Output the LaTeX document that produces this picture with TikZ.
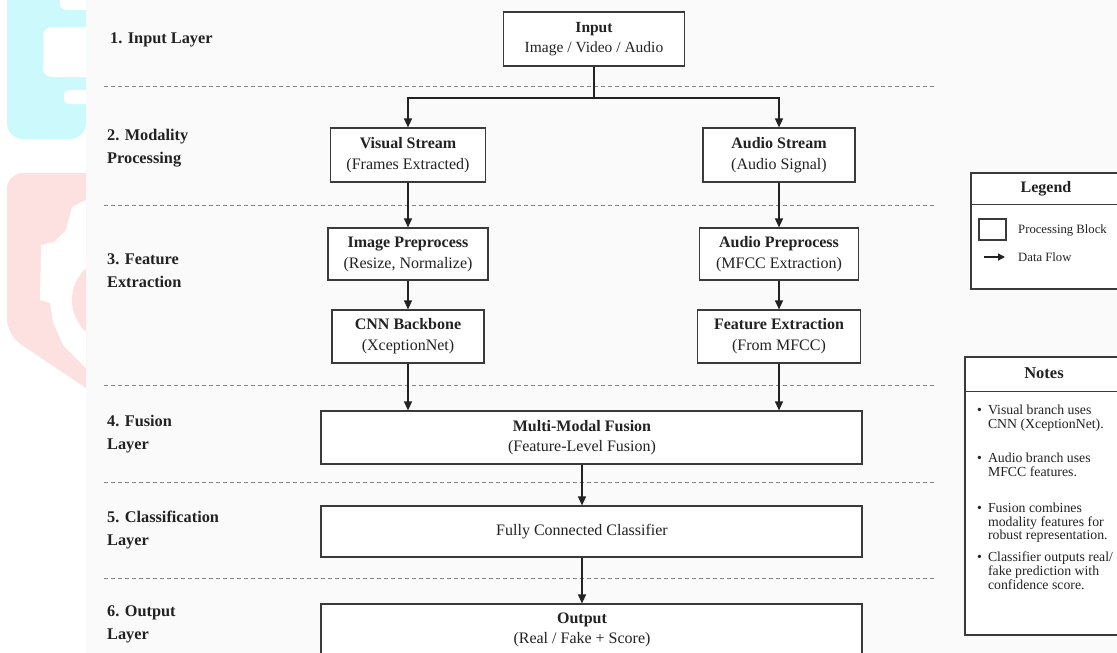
\documentclass[tikz,border=0pt]{standalone}
\usepackage{fontspec}
\setmainfont{Liberation Serif}
\usetikzlibrary{arrows.meta,positioning,calc}
\definecolor{ink}{HTML}{222222}
\definecolor{boxline}{HTML}{3A3A3A}
\definecolor{dashc}{HTML}{858585}
\definecolor{wmcyan}{HTML}{CCFAFC}
\definecolor{wmpink}{HTML}{FDE1E1}
\definecolor{bgc}{HTML}{FAFAFA}
\tikzset{
  procbox/.style={draw=boxline, line width=1.2pt, fill=white, inner sep=0pt, align=center, text=ink, font=\fontsize{16}{21}\selectfont},
  widebox/.style={draw=boxline, line width=1.2pt, fill=white, inner sep=0pt, minimum width=541pt},
  flow/.style={draw=ink, line width=1.3pt, -{Triangle[length=9pt,width=8pt]}},
  plainline/.style={draw=ink, line width=1.3pt},
  sep/.style={draw=dashc, line width=0.9pt, dash pattern=on 4pt off 3pt},
  layerlbl/.style={anchor=west, align=left, text=ink, inner sep=0pt, font=\fontsize{16.3}{23}\selectfont\bfseries},
  boxtext/.style={align=center, text=ink, inner sep=0pt, font=\fontsize{16}{20}\selectfont},
  notetext/.style={anchor=north west, inner sep=0pt, text=ink, font=\fontsize{13.8}{12.8}\selectfont},
}
\begin{document}
\begin{tikzpicture}[x=1pt,y=-1pt]
\useasboundingbox (0,0) rectangle (1117,653);
% backgrounds
\fill[white] (0,0) rectangle (86,653);
\fill[bgc] (86,0) rectangle (1117,653);
% watermark
\begin{scope}
  \clip (0,0) rectangle (86,653);
  \fill[wmcyan] (86,0) -- (7,0) {[rounded corners=16pt] -- (7,139) -- (86,139)} -- cycle;
  \fill[white, rounded corners=9pt] (43,27) rectangle (110,77);
  \fill[white, rounded corners=6pt] (60,-12) rectangle (110,10);
  \fill[white, rounded corners=5pt] (64,90) rectangle (110,104);
  \fill[wmpink] (86,173) {[rounded corners=16pt] -- (7,173) -- (7,335)} -- (86,388) -- cycle;
  \begin{scope}
    \clip (86,173) -- (7,173) -- (7,335) -- (86,388) -- cycle;
    \fill[white] (86,200) -- (72,207) -- (66,230) -- (54,242) -- (41,245) -- (40,300) -- (50,303) -- (53,322) -- (63,345) -- (86,368) -- cycle;
    \fill[wmpink] (115,300) circle (43);
  \end{scope}
\end{scope}

% separators
\foreach \yy in {86,205,385,482,578}{
  \draw[sep] (104,\yy) -- (934,\yy);
}

% layer labels
\node[layerlbl] (L1) at (110,40) {1. Input Layer};
\node[layerlbl] (L2) at (107,148.5) {2. Modality\\Processing};
\node[layerlbl] (L3) at (107,271) {3. Feature\\Extraction};
\node[layerlbl] (L4) at (107,434) {4. Fusion\\Layer};
\node[layerlbl] (L5) at (107,530.5) {5. Classification\\Layer};
\node[layerlbl] (L6) at (107,624.5) {6. Output\\Layer};

% boxes
\node[procbox, minimum width=181pt, minimum height=54pt, font=\fontsize{15.5}{20}\selectfont] (input) at (594,39)
  {\textbf{Input}\\Image / Video / Audio};
\node[procbox, minimum width=155pt, minimum height=54pt] (vis) at (408,155)
  {\textbf{Visual Stream}\\(Frames Extracted)};
\node[procbox, minimum width=152pt, minimum height=54pt] (aud) at (779,155)
  {\textbf{Audio Stream}\\(Audio Signal)};
\node[procbox, minimum width=160pt, minimum height=52pt] (imgpre) at (408,254)
  {\textbf{Image Preprocess}\\(Resize, Normalize)};
\node[procbox, minimum width=159pt, minimum height=52pt] (audpre) at (779,254)
  {\textbf{Audio Preprocess}\\(MFCC Extraction)};
\node[procbox, minimum width=152pt, minimum height=53pt] (cnn) at (408,336.5)
  {\textbf{CNN Backbone}\\(XceptionNet)};
\node[procbox, minimum width=163pt, minimum height=53pt] (featx) at (779,336.5)
  {\textbf{Feature Extraction}\\(From MFCC)};

\node[widebox, minimum height=53pt] (fusion) at (591.5,437.5) {};
\node[boxtext] (fusiontxt) at (582,438)
  {\textbf{Multi-Modal Fusion}\\(Feature-Level Fusion)};
\node[widebox, minimum height=51pt] (cls) at (591.5,531.5) {};
\node[boxtext] (clstxt) at (582,531.5) {Fully Connected Classifier};
\node[widebox, minimum height=53pt] (out) at (591.5,630.5) {};
\node[boxtext] (outtxt) at (582,630) {\textbf{Output}\\(Real / Fake + Score)};

% connectors
\coordinate (split) at (594,98);
\draw[plainline] (input.south) -- (split);
\draw[flow] (split) -| (vis.north);
\draw[flow] (split) -| (aud.north);
\draw[flow] (vis) -- (imgpre);
\draw[flow] (imgpre) -- (cnn);
\draw[flow] (aud) -- (audpre);
\draw[flow] (audpre) -- (featx);
\draw[flow] (cnn.south) -- (cnn.south |- fusion.north);
\draw[flow] (featx.south) -- (featx.south |- fusion.north);
\draw[flow] (fusiontxt |- fusion.south) -- (fusiontxt |- cls.north);
\draw[flow] (clstxt |- cls.south) -- (clstxt |- out.north);

% legend
\draw[draw=boxline, line width=1.1pt, fill=white] (971,173) rectangle (1130,289);
\draw[draw=boxline, line width=0.9pt] (971,204) -- (1130,204);
\node[text=ink, inner sep=0pt, font=\fontsize{16}{18}\selectfont\bfseries] (legtitle) at (1046,189) {Legend};
\node[draw=boxline, line width=1.1pt, minimum width=27pt, minimum height=21pt, inner sep=0pt] (legbox) at (992.5,229.5) {};
\node[anchor=west, text=ink, inner sep=0pt, font=\fontsize{12.7}{14}\selectfont] (legbtxt) at (1018,230) {Processing Block};
\coordinate (legarrA) at (984,257);
\coordinate (legarrB) at (1005,257);
\draw[draw=ink, line width=1.3pt, -{Triangle[length=7pt,width=7pt]}] (legarrA) -- (legarrB);
\node[anchor=west, text=ink, inner sep=0pt, font=\fontsize{12.7}{14}\selectfont] (legftxt) at (1018,257) {Data Flow};

% notes
\draw[draw=boxline, line width=1.1pt, fill=white] (965,357) rectangle (1130,635);
\draw[draw=boxline, line width=0.9pt] (965,391) -- (1130,391);
\node[text=ink, inner sep=0pt, font=\fontsize{16.5}{18}\selectfont\bfseries] (notestitle) at (1044,373) {Notes};
\node[notetext] (n1) at (977,405) {\begin{tabular}{@{}c@{\hspace{6pt}}l@{}}\textbullet & Visual branch uses\\ & CNN (XceptionNet).\end{tabular}};
\node[notetext] (n2) at (977,453) {\begin{tabular}{@{}c@{\hspace{6pt}}l@{}}\textbullet & Audio branch uses\\ & MFCC features.\end{tabular}};
\node[notetext] (n3) at (977,503) {\begin{tabular}{@{}c@{\hspace{6pt}}l@{}}\textbullet & Fusion combines\\ & modality features for\\ & robust representation.\end{tabular}};
\node[notetext] (n4) at (977,552) {\begin{tabular}{@{}c@{\hspace{6pt}}l@{}}\textbullet & Classifier outputs real/\\ & fake prediction with\\ & confidence score.\end{tabular}};
\end{tikzpicture}
\end{document}
